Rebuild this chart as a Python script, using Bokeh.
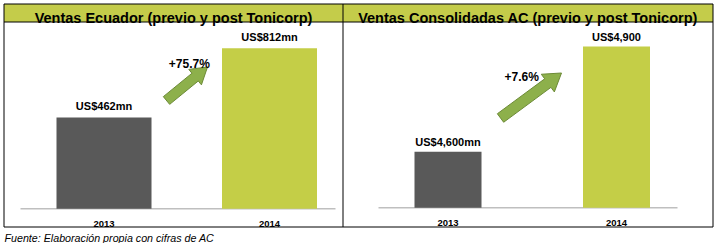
import math
from bokeh.plotting import figure
from bokeh.models import Range1d
from bokeh.embed import file_html
from bokeh.resources import INLINE
from bokeh.core.properties import value

# ---------------- data ----------------
years = ["2013", "2014"]
ecuador_sales = [462, 812]
ecuador_labels = ["US$462mn", "US$812mn"]
ecuador_growth = "+75.7%"
ac_sales = [4600, 4900]
ac_labels = ["US$4,600mn", "US$4,900"]
ac_growth = "+7.6%"
ac_axis_min = 4440
titles = ["Ventas Ecuador (previo y post Tonicorp)",
          "Ventas Consolidadas AC (previo y post Tonicorp)"]
source_note = "Fuente: Elaboración propia con cifras de AC"

# ---------------- layout / style ----------------
W, H = 716, 243
FONT = value("Liberation Sans")
HEADER_FILL = "#C4CC4A"
BAR_COLORS = ["#595959", "#C4CE47"]
ARROW_FILL = "#8DB04B"
ARROW_LINE = "#6C8A36"
BASE_COLOR = "#BFBFBF"

# table geometry (pixels from top-left)
T_LEFT, T_MID, T_RIGHT = 3.5, 342.5, 712.5
T_TOP, T_HEAD, T_BOTTOM = 3.5, 21.5, 226.5

# panel geometry
L_C0, L_C1, L_BASE, L_TOP = 103.5, 269.0, 208.3, 47.7
R_C0, R_C1, R_BASE, R_TOP = 447.5, 616.0, 207.3, 46.0
L_BAR_W, R_BAR_W = 95.0, 67.0


def x_range_for(c0, c1):
    k = c1 - c0
    return Range1d(-c0 / k, (W - c0) / k)


def y_range_for(v0, px0, v1, px1):
    k = (px0 - px1) / (v1 - v0)
    start = v0 - (H - px0) / k
    return Range1d(start, start + H / k)


p = figure(width=W, height=H, x_range=Range1d(0, W), y_range=Range1d(H, 0),
           output_backend="svg", toolbar_location=None,
           x_axis_location=None, y_axis_location=None, min_border=0,
           outline_line_color=None, background_fill_color="white",
           border_fill_color="white")
p.grid.visible = False

p.extra_x_ranges = {"xl": x_range_for(L_C0, L_C1), "xr": x_range_for(R_C0, R_C1)}
p.extra_y_ranges = {"yl": y_range_for(0, L_BASE, max(ecuador_sales), L_TOP),
                    "yr": y_range_for(ac_axis_min, R_BASE, max(ac_sales), R_TOP)}

# header cells
p.quad(left=[T_LEFT], right=[T_RIGHT], top=[T_TOP], bottom=[T_HEAD],
       fill_color=HEADER_FILL, line_color=None)
p.text(x=[(T_LEFT + T_MID) / 2, (T_MID + T_RIGHT) / 2], y=[17.5, 17.5], text=titles,
       text_align="center", text_baseline="alphabetic", text_font=FONT,
       text_font_style="bold", text_font_size="14.5px", text_color="black")

# table lines
p.segment(x0=[T_LEFT, T_LEFT, T_LEFT, T_LEFT, T_MID, T_RIGHT],
          y0=[T_TOP, T_HEAD, T_BOTTOM, T_TOP, T_TOP, T_TOP],
          x1=[T_RIGHT, T_RIGHT, T_RIGHT, T_LEFT, T_MID, T_RIGHT],
          y1=[T_TOP, T_HEAD, T_BOTTOM, T_BOTTOM, T_BOTTOM, T_BOTTOM],
          line_color="black", line_width=1)

# baselines
p.segment(x0=[20, 378], y0=[L_BASE, R_BASE], x1=[335, 677], y1=[L_BASE, R_BASE],
          line_color=BASE_COLOR, line_width=1.5)

idx = list(range(len(years)))

# bars
p.vbar(x=idx, top=ecuador_sales, bottom=0, width=L_BAR_W / (L_C1 - L_C0),
       fill_color=BAR_COLORS, line_color=None, x_range_name="xl", y_range_name="yl")
p.vbar(x=idx, top=ac_sales, bottom=ac_axis_min, width=R_BAR_W / (R_C1 - R_C0),
       fill_color=BAR_COLORS, line_color=None, x_range_name="xr", y_range_name="yr")

# value labels
lab = dict(text_align="center", text_baseline="alphabetic", text_font=FONT,
           text_font_style="bold", text_color="black")
p.text(x=idx, y=ecuador_sales, text=ecuador_labels, y_offset=-11, text_font_size="11px",
       x_range_name="xl", y_range_name="yl", **lab)
p.text(x=idx, y=ac_sales, text=ac_labels, y_offset=-10, text_font_size="11px",
       x_range_name="xr", y_range_name="yr", **lab)

# year labels
p.text(x=idx, y=[0, 0], text=years, y_offset=15, text_font_size="9.5px",
       x_range_name="xl", y_range_name="yl", **lab)
p.text(x=idx, y=[ac_axis_min] * 2, text=years, y_offset=15, text_font_size="9.5px",
       x_range_name="xr", y_range_name="yr", **lab)


def block_arrow(tail, tip, shaft_hw, head_hw, head_len):
    (x0, y0), (x1, y1) = tail, tip
    dx, dy = x1 - x0, y1 - y0
    L = math.hypot(dx, dy)
    ux, uy = dx / L, dy / L
    nx, ny = -uy, ux
    bx, by = x1 - ux * head_len, y1 - uy * head_len
    pts = [(x0 + nx * shaft_hw, y0 + ny * shaft_hw),
           (bx + nx * shaft_hw, by + ny * shaft_hw),
           (bx + nx * head_hw, by + ny * head_hw),
           (x1, y1),
           (bx - nx * head_hw, by - ny * head_hw),
           (bx - nx * shaft_hw, by - ny * shaft_hw),
           (x0 - nx * shaft_hw, y0 - ny * shaft_hw)]
    return [q[0] for q in pts], [q[1] for q in pts]


ax1, ay1 = block_arrow((166, 100), (207, 66.5), 5, 10, 16)
ax2, ay2 = block_arrow((500, 117.5), (561, 72.5), 5.3, 11, 17)
p.patches(xs=[ax1, ax2], ys=[ay1, ay2], fill_color=ARROW_FILL, line_color=ARROW_LINE,
          line_width=1)

# growth labels
p.text(x=[188.8, 521.2], y=[63.3, 76.0], text=[ecuador_growth, ac_growth],
       text_font_size="12px", **lab)

# source note
p.text(x=[4], y=[237.5], text=[source_note], text_align="left", text_baseline="alphabetic",
       text_font=FONT, text_font_style="italic", text_font_size="10.7px", text_color="black")

open("out.html", "w").write(file_html(p, INLINE))
